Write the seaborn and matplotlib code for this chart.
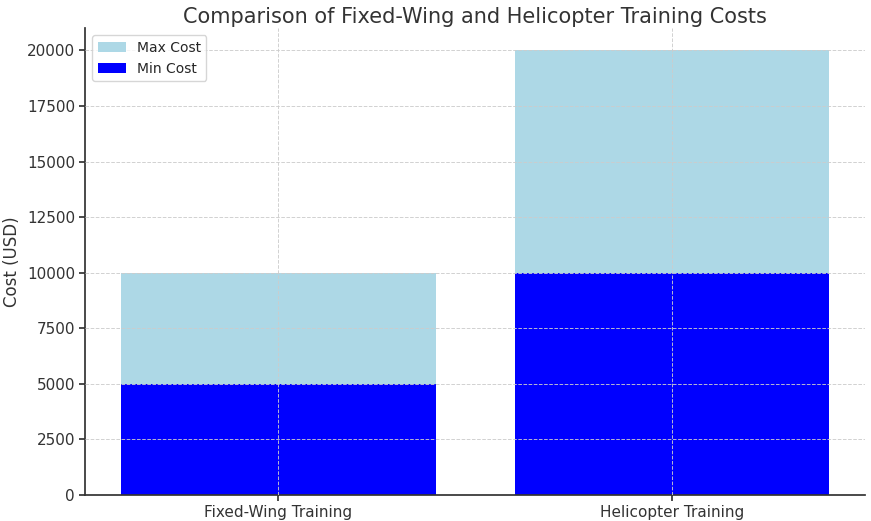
import matplotlib
matplotlib.use("Agg")
import matplotlib.pyplot as plt
import seaborn as sns
import pandas as pd

categories = ["Fixed-Wing Training", "Helicopter Training"]
min_cost = [5000, 10000]
max_cost = [10000, 20000]

df = pd.DataFrame({"program": categories, "min": min_cost, "max": max_cost})

sns.set_theme(style="white")
fig, ax = plt.subplots(figsize=(8.71, 5.21), dpi=100)

sns.barplot(data=df, x="program", y="max", color="lightblue", saturation=1,
            width=0.8, linewidth=0, label="Max Cost", ax=ax)
sns.barplot(data=df, x="program", y="min", color="blue", saturation=1,
            width=0.8, linewidth=0, label="Min Cost", ax=ax)

ax.set_axisbelow(False)
ax.grid(True, ls="--", lw=0.7, color="#cccccc", alpha=0.9)
ax.set_title("Comparison of Fixed-Wing and Helicopter Training Costs", fontsize=15,
             color="#333333", pad=4)
ax.set_xlabel("")
ax.set_ylabel("Cost (USD)", fontsize=12, color="#333333", labelpad=4)
ax.set_ylim(0, 21000)
ax.set_xlim(-0.49, 1.49)
ax.set_yticks(range(0, 20001, 2500))
ax.tick_params(labelsize=11, colors="#333333", length=4, left=True, bottom=True)
for s in ["top", "right"]:
    ax.spines[s].set_visible(False)
for s in ["left", "bottom"]:
    ax.spines[s].set_color("#333333")
ax.legend(loc="upper left", fontsize=10)

fig.subplots_adjust(left=0.098, right=0.993, bottom=0.05, top=0.946)
fig.savefig("out.png", dpi=100)
